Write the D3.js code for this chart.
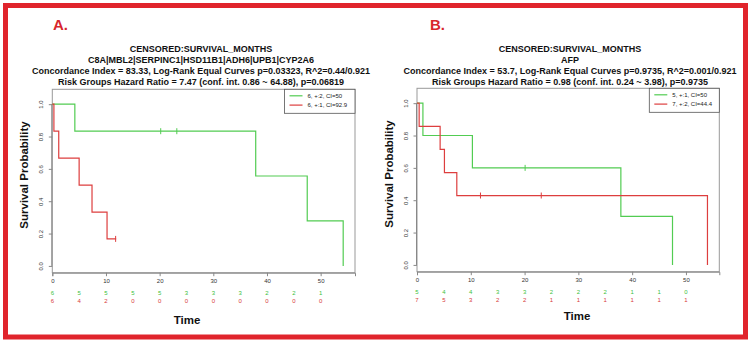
<!DOCTYPE html>
<html><head><meta charset="utf-8">
<script src="https://cdn.jsdelivr.net/npm/d3@7"></script>
<style>
body{margin:0;background:#fff}
svg{display:block}
text{font-family:"Liberation Sans",Arial,Helvetica,sans-serif}
</style>
</head><body>
<svg id="chart" width="750" height="344"></svg>
<script>
// ---------- data ----------
const panelLabels = ["A.", "B."];
const titlesA = [
  "CENSORED:SURVIVAL_MONTHS",
  "C8A|MBL2|SERPINC1|HSD11B1|ADH6|UPB1|CYP2A6",
  "Concordance Index = 83.33, Log-Rank Equal Curves p=0.03323, R^2=0.44/0.921",
  "Risk Groups Hazard Ratio = 7.47 (conf. int. 0.86 ~ 64.88), p=0.06819"
];
const titlesB = [
  "CENSORED:SURVIVAL_MONTHS",
  "AFP",
  "Concordance Index = 53.7, Log-Rank Equal Curves p=0.9735, R^2=0.001/0.921",
  "Risk Groups Hazard Ratio = 0.98 (conf. int. 0.24 ~ 3.98), p=0.9735"
];
const timeTicks = [0, 10, 20, 30, 40, 50];
const survTicks = [0, 0.2, 0.4, 0.6, 0.8, 1.0];
const riskTimes = [0, 5, 10, 15, 20, 25, 30, 35, 40, 45, 50];
const xLabel = "Time";
const yLabel = "Survival Probability";

const legendA = ["6, +:2, CI=50", "6, +:1, CI=92.9"];
const legendB = ["5, +:1, CI=50", "7, +:2, CI=44.4"];

// Panel A, green group
const aGreenTime = [0, 4.2, 37.9, 47.5, 54.2];
const aGreenSurv = [1, 0.833, 0.556, 0.278, 0];
const aGreenEnd = 54.2;
const aGreenCensor = [20.2, 23.2];
const aGreenRisk = [6, 5, 5, 5, 5, 3, 3, 3, 2, 2, 1];
// Panel A, red group
const aRedTime = [0, 0.3, 1.2, 5.0, 7.4, 10.2];
const aRedSurv = [1, 0.833, 0.667, 0.5, 0.333, 0.167];
const aRedEnd = 11.9;
const aRedCensor = [11.8];
const aRedRisk = [6, 4, 2, 0, 0, 0, 0, 0, 0, 0, 0];

// Panel B, green group
const bGreenTime = [0, 1.1, 10.3, 37.9, 47.5];
const bGreenSurv = [1, 0.8, 0.6, 0.3, 0];
const bGreenEnd = 47.5;
const bGreenCensor = [20.1];
const bGreenRisk = [5, 4, 4, 3, 3, 2, 2, 2, 1, 1, 0];
// Panel B, red group
const bRedTime = [0, 0.4, 4.3, 5.1, 7.4, 54.0];
const bRedSurv = [1, 0.857, 0.714, 0.571, 0.429, 0];
const bRedEnd = 54.0;
const bRedCensor = [11.8, 23.1];
const bRedRisk = [7, 5, 3, 2, 2, 1, 1, 1, 1, 1, 1];

// ---------- drawing ----------
const GREEN = "#52cc52", RED = "#dd3e3e";
const svg = d3.select("#chart");

svg.append("rect").attr("x", 5.5).attr("y", 5.5).attr("width", 740).attr("height", 331.5)
  .attr("fill", "none").attr("stroke", "#e0242c").attr("stroke-width", 5);

function drawPanel(cfg) {
  const g = svg.append("g");
  const x = d3.scaleLinear().domain([0, cfg.xMax]).range([cfg.left, cfg.right]);
  const y = d3.scaleLinear().domain([-0.042, 1.092]).range([cfg.bottom, cfg.top]);

  // panel letter
  g.append("text").attr("x", cfg.labelX).attr("y", 29.5).text(cfg.label)
    .attr("font-size", 15).attr("font-weight", "bold").attr("fill", "#d8262c");

  // titles
  cfg.titles.forEach((t, i) => {
    g.append("text").attr("x", cfg.titleCx).attr("y", 52 + i * 11).attr("text-anchor", "middle")
      .attr("font-size", 9).attr("font-weight", "bold").attr("fill", "#111").text(t);
  });

  // box
  g.append("rect").attr("x", cfg.left).attr("y", cfg.top)
    .attr("width", cfg.right - cfg.left).attr("height", cfg.bottom - cfg.top)
    .attr("fill", "none").attr("stroke", "#999").attr("stroke-width", 1);

  // x axis
  const xAxis = d3.axisBottom(x).tickValues(timeTicks).tickSize(3.5).tickPadding(3).tickFormat(d3.format("d"));
  const gx = g.append("g").attr("transform", `translate(0,${cfg.bottom})`).call(xAxis);
  gx.select(".domain").attr("stroke", "#888");
  gx.selectAll(".tick line").attr("stroke", "#888");
  gx.selectAll(".tick text").attr("font-size", 6).attr("fill", "#333").attr("font-family", "Liberation Sans, Arial, sans-serif");

  // y axis
  const yAxis = d3.axisLeft(y).tickValues(survTicks).tickSize(3.5).tickFormat(d3.format(".1f"));
  const gy = g.append("g").attr("transform", `translate(${cfg.left},0)`).call(yAxis);
  gy.select(".domain").attr("stroke", "#888").attr("d", `M-0.5,${y(0)}V${y(1)}`);
  gy.selectAll(".tick line").attr("stroke", "#888");
  gy.selectAll(".tick text").attr("font-size", 6).attr("fill", "#333")
    .attr("font-family", "Liberation Sans, Arial, sans-serif")
    .attr("text-anchor", "middle").attr("x", null).attr("dy", null)
    .attr("transform", "translate(-11.5,0) rotate(-90)")
    .attr("y", 0).attr("dy", "0.35em");

  // axis labels
  g.append("text").attr("transform", `translate(${cfg.left - 24},${cfg.yLabelCy}) rotate(-90)`)
    .attr("text-anchor", "middle").attr("font-size", 11.5).attr("font-weight", "bold").attr("fill", "#111").text(yLabel);
  g.append("text").attr("x", cfg.timeCx).attr("y", cfg.timeY).attr("text-anchor", "middle")
    .attr("font-size", 11.5).attr("font-weight", "bold").attr("fill", "#111").text(xLabel);

  // curves
  cfg.curves.forEach(c => {
    let d = `M${x(c.time[0])},${y(c.surv[0])}`;
    for (let i = 1; i < c.time.length; i++) d += `H${x(c.time[i])}V${y(c.surv[i])}`;
    if (c.end > c.time[c.time.length - 1]) d += `H${x(c.end)}`;
    g.append("path").attr("d", d).attr("fill", "none").attr("stroke", c.color).attr("stroke-width", 1.2);
    c.censor.forEach(t => {
      let s = c.surv[0];
      c.time.forEach((tt, i) => { if (tt <= t) s = c.surv[i]; });
      g.append("line").attr("x1", x(t)).attr("x2", x(t)).attr("y1", y(s) - 3).attr("y2", y(s) + 3)
        .attr("stroke", c.color).attr("stroke-width", 1);
    });
  });

  // numbers at risk
  cfg.curves.forEach((c, k) => {
    riskTimes.forEach((t, i) => {
      g.append("text").attr("x", x(t)).attr("y", cfg.riskY[k]).attr("text-anchor", "middle")
        .attr("font-size", 6).attr("fill", c.riskColor).text(c.risk[i]);
    });
  });

  // legend
  const lx = cfg.legendLeft, lt = cfg.top, lw = cfg.right - cfg.legendLeft, lh = 24;
  g.append("rect").attr("x", lx).attr("y", lt).attr("width", lw).attr("height", lh)
    .attr("fill", "#fff").attr("stroke", "#555").attr("stroke-width", 0.8);
  cfg.legend.forEach((t, i) => {
    const ly = lt + 6.5 + i * 9.3;
    g.append("line").attr("x1", lx + 5).attr("x2", lx + 18).attr("y1", ly).attr("y2", ly)
      .attr("stroke", cfg.curves[i].color).attr("stroke-width", 1.2);
    g.append("text").attr("x", lx + 23).attr("y", ly).attr("dy", "0.35em")
      .attr("font-size", 6).attr("fill", "#222").text(t);
  });
}

drawPanel({
  label: panelLabels[0], labelX: 53, titles: titlesA, titleCx: 201,
  left: 52.3, right: 355, top: 89.3, bottom: 272.7, xMax: 56.4,
  yLabelCy: 175, timeCx: 187, timeY: 324, riskY: [295, 303], legendLeft: 284.5,
  legend: legendA,
  curves: [
    {time: aGreenTime, surv: aGreenSurv, end: aGreenEnd, censor: aGreenCensor, risk: aGreenRisk, color: GREEN, riskColor: "#3cbf3c"},
    {time: aRedTime, surv: aRedSurv, end: aRedEnd, censor: aRedCensor, risk: aRedRisk, color: RED, riskColor: "#d83a3a"}
  ]
});
drawPanel({
  label: panelLabels[1], labelX: 430, titles: titlesB, titleCx: 570,
  left: 417, right: 719.3, top: 88.3, bottom: 271.7, xMax: 56.2,
  yLabelCy: 174, timeCx: 577, timeY: 320, riskY: [294, 302], legendLeft: 649.3,
  legend: legendB,
  curves: [
    {time: bGreenTime, surv: bGreenSurv, end: bGreenEnd, censor: bGreenCensor, risk: bGreenRisk, color: GREEN, riskColor: "#3cbf3c"},
    {time: bRedTime, surv: bRedSurv, end: bRedEnd, censor: bRedCensor, risk: bRedRisk, color: RED, riskColor: "#d83a3a"}
  ]
});
</script>
</body></html>
